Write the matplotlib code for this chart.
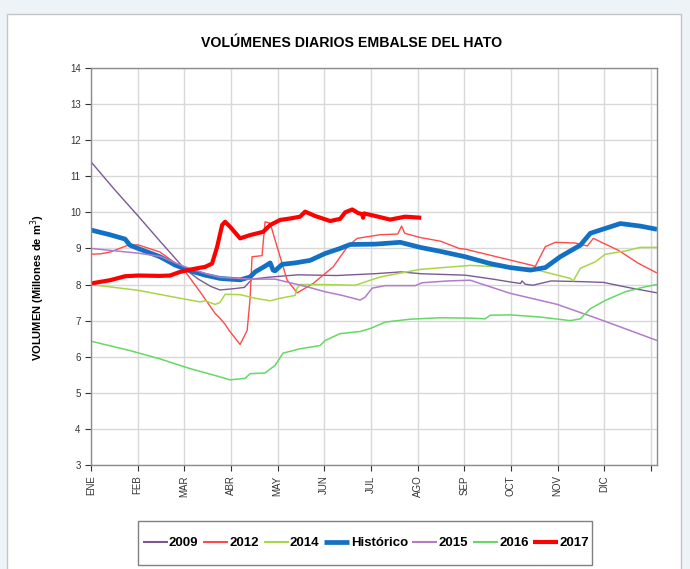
import matplotlib
matplotlib.use('Agg')
import matplotlib.pyplot as plt
from matplotlib.patches import Rectangle
import numpy as np

plt.rcParams['font.family'] = ['Liberation Sans', 'DejaVu Sans']

# dia del año y volumen (millones de m3)
meses = ['ENE', 'FEB', 'MAR', 'ABR', 'MAY', 'JUN', 'JUL', 'AGO', 'SEP', 'OCT', 'NOV', 'DIC', '']

dias_2009 = [0, 15, 30.7, 45, 60.7, 70, 78, 84, 92, 100, 105, 115, 135, 160, 185, 202, 215, 244,
             262, 275, 280, 281, 283, 288, 300, 320, 334, 350, 369]
vol_2009 = [11.4, 10.65, 9.9, 9.2, 8.45, 8.15, 7.95, 7.85, 7.88, 7.92, 8.15, 8.2, 8.27, 8.25, 8.3,
            8.35, 8.3, 8.26, 8.15, 8.06, 8.03, 8.1, 8.01, 7.98, 8.1, 8.08, 8.06, 7.92, 7.77]

dias_2012 = [0, 6, 12.4, 24.1, 30.7, 45, 54.8, 60.7, 71.1, 80.9, 84, 87.4, 90, 97.2, 101.8, 103.7,
             105, 111.5, 113.5, 116.8, 121.3, 127.9, 134.4, 144.8, 157.9, 167, 173.5, 188.5, 200,
             202.5, 204.5, 215, 228, 240, 244, 287.7, 289.6, 296.2, 302.7, 315.7, 323.6, 327.5,
             335.3, 343.8, 356.8, 369]
vol_2012 = [8.84, 8.85, 8.9, 9.09, 9.1, 8.9, 8.6, 8.4, 7.8, 7.2, 7.07, 6.9, 6.73, 6.34, 6.73, 7.6,
            8.77, 8.8, 9.74, 9.7, 9.05, 8.12, 7.77, 8.03, 8.49, 9.04, 9.28, 9.38, 9.4,
            9.62, 9.42, 9.3, 9.2, 9.0, 8.98, 8.53, 8.5, 9.05, 9.17, 9.15, 9.07, 9.28,
            9.12, 8.95, 8.59, 8.32]

dias_2014 = [0, 30.7, 60.7, 71.1, 74.4, 80.9, 84, 87.4, 97.2, 107, 116.8, 123.3, 133.1, 134.4,
             136.3, 150, 172.2, 188.5, 214.6, 247.2, 286.4, 312.5, 314.4, 319, 328.8, 335.3,
             348.3, 358.1, 369]
vol_2014 = [8.0, 7.84, 7.6, 7.52, 7.55, 7.45, 7.5, 7.73, 7.72, 7.62, 7.55, 7.62, 7.7, 7.9,
            8.0, 8.0, 7.98, 8.21, 8.42, 8.53, 8.45, 8.17, 8.1, 8.45, 8.63, 8.84,
            8.93, 9.03, 9.03]

dias_hist = [0, 12.4, 22.2, 25.4, 30.7, 45, 54.8, 64.6, 74.4, 84.1, 97.2, 103.7, 107, 113.5,
             116.8, 118.7, 120, 124.6, 133.1, 142.9, 152.6, 162.4, 169, 185.3, 201.6, 214.6,
             227.7, 244, 260.3, 273.3, 286.4, 296.2, 305.9, 319, 325.5, 332, 345.1, 358.1, 369]
vol_hist = [9.51, 9.38, 9.26, 9.09, 9.0, 8.77, 8.54, 8.38, 8.26, 8.17, 8.13, 8.21, 8.35, 8.51,
            8.6, 8.4, 8.38, 8.56, 8.6, 8.67, 8.86, 9.0, 9.11, 9.12, 9.17, 9.03,
            8.92, 8.77, 8.58, 8.47, 8.4, 8.47, 8.77, 9.09, 9.42, 9.51, 9.69, 9.62, 9.53]

dias_2015 = [0, 30.7, 45, 60.7, 75, 84, 104, 120, 141.6, 152.6, 163.7, 175.5, 178.7, 183.3,
             191.8, 211.4, 215.9, 232.9, 247.2, 273, 304, 334, 369]
vol_2015 = [9.0, 8.87, 8.78, 8.5, 8.3, 8.2, 8.15, 8.15, 7.93, 7.8, 7.7, 7.57, 7.65, 7.9,
            7.97, 7.97, 8.05, 8.1, 8.12, 7.76, 7.45, 7.0, 6.45]

dias_2016 = [0, 25.4, 45, 64.6, 80.9, 90.7, 100.5, 103.7, 113.5, 120, 125.2, 136.3, 149.4,
             152.6, 162.4, 175.5, 182, 191.8, 208.1, 227.7, 247.2, 257, 260.3, 273.3, 292.9,
             302.7, 312.5, 319, 325.5, 335.3, 348.3, 361.4, 369]
vol_2016 = [6.43, 6.17, 5.94, 5.67, 5.48, 5.36, 5.4, 5.53, 5.55, 5.76, 6.1, 6.22, 6.31,
            6.45, 6.64, 6.7, 6.78, 6.96, 7.04, 7.08, 7.07, 7.05, 7.15, 7.16, 7.1,
            7.05, 7.0, 7.05, 7.33, 7.56, 7.8, 7.94, 8.0]

dias_2017 = [0, 12.4, 22.2, 30.7, 45, 51.5, 58, 67.8, 74.4, 78.9, 82.2, 85.5, 87.4, 90.7, 97.2,
             103.7, 112.2, 116.8, 123.3, 129.8, 136.3, 139.6, 146.1, 155.9, 162.4, 165.7, 170.3,
             174.2, 176.7, 177.4, 178, 185.3, 195, 204.8, 215.3]
vol_2017 = [8.03, 8.12, 8.23, 8.25, 8.24, 8.25, 8.35, 8.44, 8.49, 8.58, 9.04, 9.65, 9.74, 9.6, 9.28,
            9.37, 9.46, 9.65, 9.79, 9.83, 9.88, 10.02, 9.9, 9.76, 9.82, 10.0, 10.08,
            9.98, 9.95, 9.85, 9.97, 9.9, 9.8, 9.88, 9.85]

series = [
    ('2009', dias_2009, vol_2009, '#7b5a94', 1.0),
    ('2012', dias_2012, vol_2012, '#ff4a4a', 1.0),
    ('2014', dias_2014, vol_2014, '#a8d646', 1.1),
    ('Histórico', dias_hist, vol_hist, '#1271c4', 3.4),
    ('2015', dias_2015, vol_2015, '#b27ccb', 1.1),
    ('2016', dias_2016, vol_2016, '#66d866', 1.1),
    ('2017', dias_2017, vol_2017, '#ff0000', 3.0),
]

fig = plt.figure(figsize=(6.9, 5.69), dpi=100, facecolor='#eef3f8')
fig.patches.append(Rectangle((7 / 690, -0.01), 674 / 690, 1 - 14 / 569 + 0.01,
                             transform=fig.transFigure, facecolor='white',
                             edgecolor='#c4c4c4', linewidth=1, zorder=-10))
# marco de la leyenda
fig.patches.append(Rectangle((138 / 690, 1 - 565 / 569), 454 / 690, 44 / 569,
                             transform=fig.transFigure, facecolor='white',
                             edgecolor='#808080', linewidth=1, zorder=-5))

ax = fig.add_axes([91 / 690, 1 - 465 / 569, 566 / 690, 397 / 569])
ax.set_facecolor('white')
for nombre, x, y, color, lw in series:
    ax.plot(x, y, color=color, lw=lw, label=nombre, solid_capstyle='butt')

ax.set_xlim(0, 369)
ax.set_ylim(3, 14)
ax.set_yticks(range(3, 15))
ax.set_xticks(np.arange(13) * 365 / 12)
ax.set_xticklabels(meses, rotation=90, fontsize=7)
ax.tick_params(axis='y', labelsize=7, length=4, width=0.8, colors='#333333')
ax.tick_params(axis='x', length=4, width=0.8, colors='#333333')
ax.grid(True, color='#d8d8d8', lw=1)
ax.set_axisbelow(True)
for s in ax.spines.values():
    s.set_color('#8c8c8c')
    s.set_linewidth(1)

fig.text(352 / 690, 1 - 43 / 569, 'VOLÚMENES DIARIOS EMBALSE DEL HATO',
         ha='center', va='center', fontsize=10.2, fontweight='bold')
fig.text(38 / 690, 1 - 288 / 569, 'VOLUMEN (Millones de m$^3$)', rotation=90,
         ha='center', va='center', fontsize=8, fontweight='bold')

leg = fig.legend(loc='center', bbox_to_anchor=(366 / 690, 1 - 543 / 569), ncol=7,
                 frameon=False, prop={'weight': 'bold', 'size': 9.5}, handlelength=1.9,
                 handletextpad=0.1, columnspacing=0.35, borderpad=0.2)
for h in leg.get_lines():
    h.set_linewidth(max(h.get_linewidth(), 1.5))

fig.savefig('out.png', dpi=100, facecolor=fig.get_facecolor())
